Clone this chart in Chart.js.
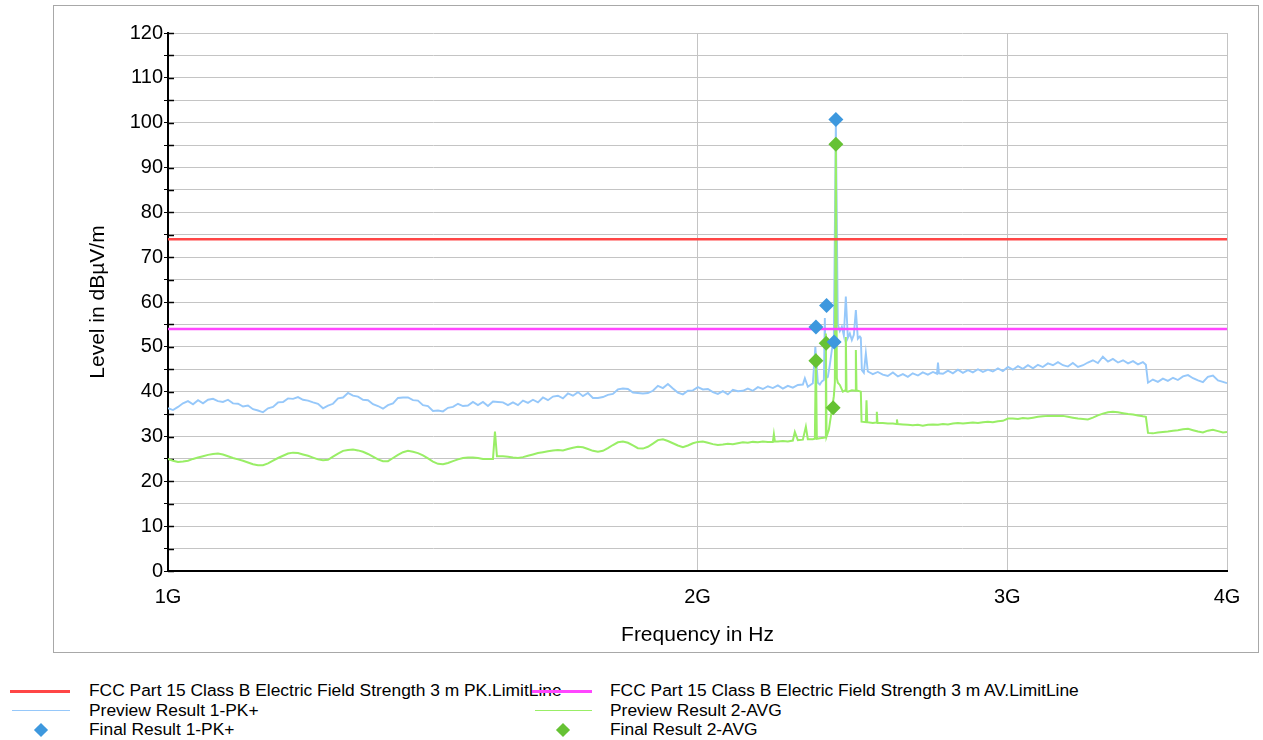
<!DOCTYPE html>
<html>
<head>
<meta charset="utf-8">
<script src="https://cdn.jsdelivr.net/npm/chart.js@4.4.1/dist/chart.umd.min.js"></script>
<style>
  html, body { margin: 0; padding: 0; background: #fff; }
  body { width: 1263px; height: 740px; position: relative; overflow: hidden; font-family: "Liberation Sans", Arial, sans-serif; }
  #frame { position: absolute; left: 53px; top: 5px; width: 1204px; height: 646px; border: 1px solid #a8a8a8; }
  #chart { position: absolute; left: 0; top: 0; }
  .txt { position: absolute; font-size: 17.4px; line-height: 19px; height: 19px; white-space: nowrap; color: #000; }
  .line { position: absolute; height: 3px; }
  .thin { position: absolute; height: 1.5px; }
  .dia { position: absolute; width: 10px; height: 10px; transform: rotate(45deg); }
</style>
</head>
<body>
<div id="frame"></div>
<canvas id="chart" width="1263" height="660"></canvas>

<div class="txt" style="left:89px; top:681px;">FCC Part 15 Class B Electric Field Strength 3 m PK.LimitLine</div>
<div class="txt" style="left:89px; top:700.5px;">Preview Result 1-PK+</div>
<div class="txt" style="left:89px; top:720px;">Final Result 1-PK+</div>
<div class="line" style="left:10px; top:689.5px; width:60px; background:#ff4646;"></div>
<div class="thin" style="left:12px; top:709.5px; width:58px; background:#96c8fa;"></div>
<div class="dia" style="left:36px; top:724.5px; background:#3d98de;"></div>

<div class="txt" style="left:610px; top:681px;">FCC Part 15 Class B Electric Field Strength 3 m AV.LimitLine</div>
<div class="txt" style="left:610px; top:700.5px;">Preview Result 2-AVG</div>
<div class="txt" style="left:610px; top:720px;">Final Result 2-AVG</div>
<div class="line" style="left:532px; top:689.5px; width:60px; background:#ff46ff;"></div>
<div class="thin" style="left:535px; top:709.5px; width:57px; background:#99ee66;"></div>
<div class="dia" style="left:558px; top:724.5px; background:#66c234;"></div>

<script>
// frequency in GHz, level in dBuV/m
const freqTicks = [1, 2, 3, 4];
const limitFreq = [1, 4];
const pkLimit = [74, 74];
const avLimit = [54, 54];

const pkFreq = [
  1.000, 1.0066, 1.0132, 1.0198, 1.0265, 1.0333, 1.0401, 1.0469, 1.0538, 1.0607,
  1.0676, 1.0746, 1.0817, 1.0888, 1.0960, 1.1032, 1.1104, 1.1177, 1.1250, 1.1324,
  1.1399, 1.1474, 1.1549, 1.1625, 1.1701, 1.1778, 1.1855, 1.1933, 1.2012, 1.2091,
  1.2170, 1.2250, 1.2330, 1.2411, 1.2493, 1.2575, 1.2657, 1.2740, 1.2824, 1.2908,
  1.2993, 1.3078, 1.3164, 1.3250, 1.3337, 1.3425, 1.3513, 1.3602, 1.3691, 1.3781,
  1.3871, 1.3962, 1.4054, 1.4146, 1.4239, 1.4333, 1.4427, 1.4522, 1.4617, 1.4713,
  1.4809, 1.4906, 1.5004, 1.5103, 1.5202, 1.5302, 1.5402, 1.5503, 1.5605, 1.5708,
  1.5811, 1.5915, 1.6019, 1.6124, 1.6230, 1.6337, 1.6444, 1.6552, 1.6660, 1.6770,
  1.6880, 1.6991, 1.7102, 1.7215, 1.7328, 1.7441, 1.7556, 1.7671, 1.7787, 1.7904,
  1.8021, 1.8140, 1.8259, 1.8379, 1.8499, 1.8621, 1.8743, 1.8866, 1.8990, 1.9115,
  1.9240, 1.9366, 1.9493, 1.9621, 1.9750, 1.9880, 2.0010, 2.0141, 2.0274, 2.0407,
  2.0541, 2.0675, 2.0811, 2.0948, 2.1085, 2.1224, 2.1363, 2.1503, 2.1645, 2.1787,
  2.1930, 2.2074, 2.2219, 2.2365, 2.2511, 2.2659, 2.2808, 2.2958, 2.3018, 2.3108, 2.3260, 2.3336,
  2.3413, 2.3474, 2.3536, 2.3597, 2.3628, 2.3660, 2.3721, 2.3783, 2.3846, 2.3908,
  2.3971, 2.4033, 2.4096, 2.4160, 2.4223, 2.4286, 2.4350, 2.4414, 2.4478, 2.4542,
  2.4607, 2.4671, 2.4736, 2.4768, 2.4801, 2.4866, 2.4931, 2.4996,
  2.516, 2.5325, 2.549, 2.5658, 2.583, 2.600, 2.617, 2.634, 2.651, 2.669,
  2.686, 2.704, 2.722, 2.7364, 2.740, 2.7436, 2.758, 2.776, 2.794, 2.8125, 2.831, 2.8496,
  2.868, 2.8872, 2.906, 2.9252, 2.944, 2.9637, 2.983, 3.0028, 3.022, 3.0424,
  3.062, 3.0825, 3.103, 3.123, 3.143, 3.164, 3.185, 3.206, 3.227, 3.248,
  3.269, 3.291, 3.313, 3.334, 3.356, 3.378, 3.400, 3.423, 3.445, 3.468,
  3.491, 3.514, 3.537, 3.560, 3.583, 3.597, 3.607, 3.630, 3.654, 3.678,
  3.702, 3.727, 3.751, 3.776, 3.801, 3.826, 3.851, 3.876, 3.901, 3.927,
  3.953, 3.979, 4.000
];
const pkLevel = [
  36.3, 35.9, 36.6, 37.4, 37.9, 37.2, 38.1, 37.4, 38.2, 38.4,
  37.9, 37.7, 38.2, 37.4, 37.3, 36.7, 36.9, 36.1, 35.8, 35.4,
  36.3, 36.6, 37.6, 37.7, 38.5, 38.4, 38.8, 38.2, 38.0, 37.6,
  37.3, 36.3, 36.9, 37.3, 38.5, 38.7, 39.7, 39.1, 38.9, 38.2,
  38.1, 37.2, 36.8, 36.2, 37.0, 37.4, 38.6, 38.7, 38.7, 38.1,
  38.0, 37.0, 36.8, 35.7, 35.8, 35.6, 36.4, 36.6, 37.3, 36.8,
  36.9, 37.7, 37.0, 37.7, 36.8, 37.8, 37.7, 37.6, 37.0, 37.6,
  37.0, 38.0, 37.5, 38.2, 37.6, 38.7, 38.1, 38.9, 39.1, 38.5,
  39.6, 39.1, 39.9, 39.0, 39.7, 38.6, 38.6, 38.8, 39.3, 39.5,
  40.5, 40.7, 40.6, 39.8, 39.7, 39.6, 39.7, 40.2, 41.3, 40.8,
  41.7, 40.7, 39.8, 39.4, 40.2, 40.3, 41.0, 40.5, 40.6, 39.9,
  39.5, 40.1, 39.4, 40.4, 40.1, 40.2, 40.7, 40.2, 41.0, 40.6,
  41.2, 40.8, 41.4, 40.7, 41.3, 40.9, 41.5, 41.6, 43.0, 41.1, 41.9, 50.0,
  42.0, 41.6, 42.3, 42.6, 56.4, 43.0, 43.3, 46.0, 49.3, 52.0,
  100.5, 55.0, 53.5, 54.5, 52.5, 61.2, 52.0, 53.0, 51.5, 52.7,
  58.2, 51.8, 52.3, 52.0, 44.8, 44.2, 48.6, 44.5,
  43.9, 44.4, 43.8, 43.5, 44.3, 43.4, 43.9, 43.3, 44.1, 43.6,
  44.3, 43.8, 44.4, 44.0, 46.5, 44.1, 44.0, 44.7, 44.1, 44.9, 44.2, 44.8,
  44.3, 45.0, 44.4, 44.9, 44.5, 45.2, 44.6, 45.5, 44.9, 45.7,
  45.1, 45.9, 45.2, 46.0, 45.5, 46.3, 45.9, 46.6, 45.9, 45.6,
  46.4, 45.5, 45.9, 46.5, 47.0, 46.4, 47.8, 46.7, 47.3, 46.5,
  47.0, 46.3, 46.8, 46.1, 46.6, 46.0, 42.0, 42.7, 42.2, 42.9,
  42.4, 43.1, 42.6, 43.4, 43.7, 43.0, 42.5, 42.1, 43.3, 43.6,
  42.5, 42.2, 41.9
];

const avFreq = [
  1.000, 1.0066, 1.0132, 1.0198, 1.0265, 1.0333, 1.0401, 1.0469, 1.0538, 1.0607,
  1.0676, 1.0746, 1.0817, 1.0888, 1.0960, 1.1032, 1.1104, 1.1177, 1.1250, 1.1324,
  1.1399, 1.1474, 1.1549, 1.1625, 1.1701, 1.1778, 1.1855, 1.1933, 1.2012, 1.2091,
  1.2170, 1.2250, 1.2330, 1.2411, 1.2493, 1.2575, 1.2657, 1.2740, 1.2824, 1.2908,
  1.2993, 1.3078, 1.3164, 1.3250, 1.3337, 1.3425, 1.3513, 1.3602, 1.3691, 1.3781,
  1.3871, 1.3962, 1.4054, 1.4146, 1.4239, 1.4333, 1.4427, 1.4522, 1.4617, 1.4713,
  1.4809, 1.4906, 1.5004, 1.5103, 1.5202, 1.5302, 1.5342, 1.5382,
  1.5503, 1.5605, 1.5708, 1.5811, 1.5915, 1.6019, 1.6124, 1.6230, 1.6337, 1.6444,
  1.6552, 1.6660, 1.6770, 1.6880, 1.6991, 1.7102, 1.7215, 1.7328, 1.7441, 1.7556,
  1.7671, 1.7787, 1.7904, 1.8021, 1.8140, 1.8259, 1.8379, 1.8499, 1.8621, 1.8743,
  1.8866, 1.8990, 1.9115, 1.9240, 1.9366, 1.9493, 1.9621, 1.9750, 1.9880, 2.0010,
  2.0141, 2.0274, 2.0407, 2.0541, 2.0675, 2.0811, 2.0948, 2.1085, 2.1224, 2.1363,
  2.1503, 2.1645, 2.1787, 2.1930, 2.2074, 2.2103, 2.2132, 2.2219, 2.2365, 2.2511, 2.2659,
  2.2718, 2.2808, 2.2958, 2.3048, 2.3108, 2.3260,
  2.3321, 2.3352, 2.3382, 2.3474, 2.3597, 2.3644, 2.3660, 2.3681, 2.3752, 2.3783,
  2.3846, 2.3908, 2.3940, 2.3971, 2.4002, 2.4033, 2.4096, 2.4191, 2.4270, 2.4286,
  2.4309, 2.4350, 2.4478, 2.4591, 2.4607, 2.4629, 2.4671, 2.4768, 2.4791, 2.4931,
  2.4952, 2.4976, 2.516, 2.527, 2.5292, 2.5315, 2.549, 2.5658, 2.583, 2.5943,
  2.5966, 2.599, 2.617, 2.634, 2.651, 2.669, 2.686, 2.704, 2.722, 2.740,
  2.758, 2.776, 2.794, 2.8125, 2.831, 2.8496, 2.868, 2.8872, 2.906, 2.9252,
  2.944, 2.9637, 2.983, 3.0028, 3.022, 3.0424, 3.062, 3.0825, 3.103, 3.123,
  3.143, 3.164, 3.185, 3.206, 3.227, 3.248, 3.269, 3.291, 3.313, 3.334,
  3.356, 3.378, 3.400, 3.423, 3.445, 3.468, 3.491, 3.514, 3.537, 3.560,
  3.583, 3.597, 3.607, 3.630, 3.654, 3.678, 3.702, 3.727, 3.751, 3.776,
  3.801, 3.826, 3.851, 3.876, 3.901, 3.927, 3.953, 3.979, 4.000
];
const avLevel = [
  25.0, 24.6, 24.3, 24.4, 24.6, 25.0, 25.3, 25.6, 25.9, 26.1,
  26.2, 26.0, 25.6, 25.2, 24.9, 24.6, 24.2, 23.8, 23.6, 23.6,
  24.0, 24.6, 25.2, 25.7, 26.2, 26.4, 26.3, 26.0, 25.7, 25.3,
  24.9, 24.7, 24.8, 25.5, 26.2, 26.8, 27.0, 27.1, 26.9, 26.6,
  26.1, 25.5, 24.9, 24.5, 24.5, 25.2, 25.9, 26.5, 26.8, 26.6,
  26.3, 25.8, 25.1, 24.4, 23.9, 23.8, 24.1, 24.5, 24.9, 25.2,
  25.3, 25.3, 25.2, 25.0, 25.0, 25.0, 31.1, 25.6,
  25.6, 25.5, 25.3, 25.2, 25.4, 25.7, 26.0, 26.3, 26.5, 26.7,
  26.9, 27.0, 26.9, 27.2, 27.5, 27.7, 27.6, 27.2, 26.8, 26.6,
  26.8, 27.4, 28.1, 28.7, 28.9, 28.6, 28.0, 27.4, 27.3, 27.7,
  28.4, 29.2, 29.4, 29.0, 28.5, 28.0, 27.6, 28.0, 28.5, 28.8,
  28.9, 28.6, 28.3, 28.1, 28.2, 28.4, 28.3, 28.5, 28.7, 28.6,
  28.8, 28.7, 28.9, 28.8, 28.8, 30.5, 28.9, 28.9, 29.0, 28.9, 29.1,
  31.0, 29.2, 29.3, 32.2, 29.4, 29.4,
  29.5, 48.5, 29.5, 29.6, 29.7, 29.8, 53.0, 30.0, 31.5, 33.0,
  35.9, 39.0, 42.0, 95.3, 43.0, 42.0, 41.5, 40.0, 40.3, 52.2,
  40.1, 40.0, 40.3, 40.2, 49.3, 40.2, 40.2, 40.0, 33.3, 33.2,
  38.1, 33.2, 33.0, 33.1, 35.5, 33.0, 33.0, 32.9, 32.9, 32.8,
  33.8, 32.8, 32.7, 32.6, 32.5, 32.6, 32.4, 32.6, 32.7, 32.6,
  32.8, 32.7, 32.9, 33.0, 32.9, 33.0, 33.1, 33.0, 33.2, 33.3,
  33.2, 33.4, 33.5, 34.0, 34.0, 33.9, 34.1, 34.0, 34.2, 34.4,
  34.5, 34.6, 34.6, 34.6, 34.6, 34.4, 34.2, 34.0, 33.9, 33.8,
  34.2, 34.7, 35.1, 35.4, 35.5, 35.4, 35.2, 35.0, 34.9, 34.7,
  34.5, 34.4, 30.8, 30.7, 30.9, 31.0, 31.1, 31.3, 31.4, 31.6,
  31.7, 31.4, 31.1, 30.9, 31.3, 31.5, 31.2, 30.9, 31.0
];

const pkMarkFreq = [2.3355, 2.3681, 2.3917, 2.3971];
const pkMarkLevel = [54.4, 59.2, 51.1, 100.7];
const avMarkFreq = [2.3352, 2.3669, 2.3886, 2.3971];
const avMarkLevel = [46.9, 50.8, 36.4, 95.2];

const toPoints = (xs, ys) => xs.map((x, i) => ({ x: x, y: ys[i] }));

const family = '"Liberation Sans", Arial, sans-serif';

// short black ticks on the inner side of the y axis
const innerTicks = {
  id: "innerTicks",
  beforeDatasetsDraw(chart) {
    const y = chart.scales.y;
    const ctx = chart.ctx;
    ctx.save();
    ctx.strokeStyle = "#000";
    ctx.lineWidth = 1.5;
    y.ticks.forEach((t) => {
      const py = Math.round(y.getPixelForValue(t.value)) + 0.5;
      ctx.beginPath();
      ctx.moveTo(y.right, py);
      ctx.lineTo(y.right + 6, py);
      ctx.stroke();
    });
    ctx.restore();
  },
};

new Chart(document.getElementById("chart"), {
  type: "line",
  data: {
    datasets: [
      {
        label: "Final Result 1-PK+",
        data: toPoints(pkMarkFreq, pkMarkLevel),
        showLine: false,
        pointStyle: "rectRot",
        pointRadius: 7.5,
        pointBackgroundColor: "#3d98de",
        pointBorderWidth: 0,
        order: 0,
      },
      {
        label: "Final Result 2-AVG",
        data: toPoints(avMarkFreq, avMarkLevel),
        showLine: false,
        pointStyle: "rectRot",
        pointRadius: 7.5,
        pointBackgroundColor: "#66c234",
        pointBorderWidth: 0,
        order: 1,
      },
      {
        label: "FCC Part 15 Class B Electric Field Strength 3 m PK.LimitLine",
        data: toPoints(limitFreq, pkLimit),
        borderColor: "#ff4646",
        borderWidth: 2.5,
        pointRadius: 0,
        order: 2,
      },
      {
        label: "FCC Part 15 Class B Electric Field Strength 3 m AV.LimitLine",
        data: toPoints(limitFreq, avLimit),
        borderColor: "#ff46ff",
        borderWidth: 2.5,
        pointRadius: 0,
        order: 3,
      },
      {
        label: "Preview Result 2-AVG",
        data: toPoints(avFreq, avLevel),
        borderColor: "#99ee66",
        borderWidth: 2,
        pointRadius: 0,
        tension: 0,
        order: 4,
      },
      {
        label: "Preview Result 1-PK+",
        data: toPoints(pkFreq, pkLevel),
        borderColor: "#96c8fa",
        borderWidth: 1.9,
        pointRadius: 0,
        tension: 0,
        order: 5,
      },
    ],
  },
  options: {
    responsive: false,
    animation: false,
    layout: { padding: { left: 84, right: 36, top: 33, bottom: 0 } },
    plugins: {
      legend: { display: false },
      tooltip: { enabled: false },
    },
    scales: {
      x: {
        type: "logarithmic",
        min: 1,
        max: 4,
        afterBuildTicks: (s) => {
          s.ticks = freqTicks.map((v) => ({ value: v }));
        },
        afterFit: (s) => {
          s.height = 89;
        },
        ticks: {
          callback: (v) => v + "G",
          font: { family: family, size: 20 },
          color: "#000",
          padding: 8,
          maxRotation: 0,
          autoSkip: false,
        },
        grid: { color: "#c4c4c4", lineWidth: 1, tickLength: 6, tickColor: "rgba(0,0,0,0)" },
        border: { color: "#000", width: 2 },
        title: {
          display: true,
          text: "Frequency in Hz",
          font: { family: family, size: 21 },
          color: "#000",
          padding: { top: 0, bottom: 12 },
        },
      },
      y: {
        min: 0,
        max: 120,
        afterFit: (s) => {
          s.width = 84;
        },
        ticks: {
          stepSize: 5,
          maxTicksLimit: 30,
          autoSkip: false,
          padding: 1,
          callback: (v) => (v % 10 === 0 ? v : ""),
          font: { family: family, size: 20 },
          color: "#000",
        },
        grid: { color: "#c4c4c4", lineWidth: 1, tickLength: 4, tickColor: "#000" },
        border: { color: "#000", width: 2 },
        title: {
          display: true,
          text: "Level in dBµV/m",
          font: { family: family, size: 21 },
          color: "#000",
          padding: { top: 2, bottom: 0 },
        },
      },
    },
  },
  plugins: [innerTicks],
});
</script>
</body>
</html>
